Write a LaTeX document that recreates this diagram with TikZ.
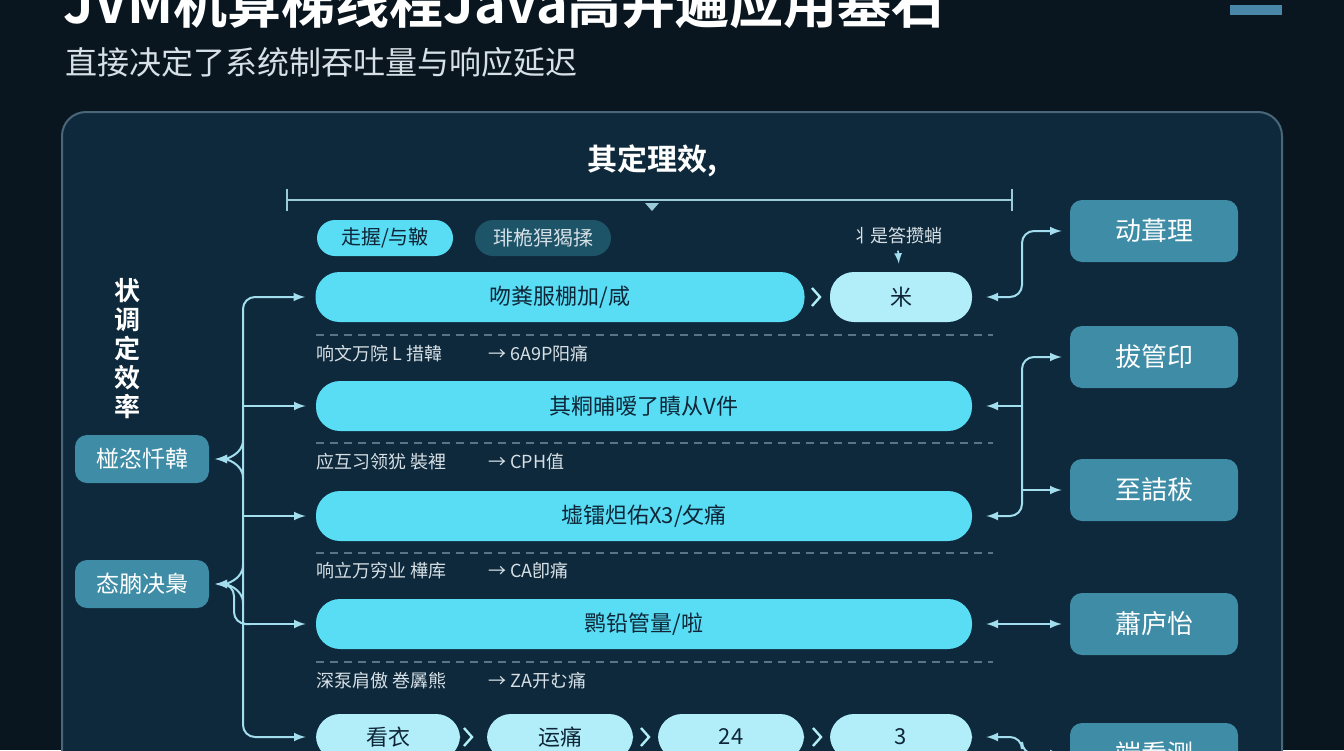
\documentclass[tikz,border=0pt]{standalone}
\usepackage{fontspec}
\setmainfont{Noto Sans CJK SC}[BoldFont={Noto Sans CJK SC Bold}]
\definecolor{bgc}{HTML}{09161F}
\definecolor{panelc}{HTML}{0E293B}
\definecolor{framec}{HTML}{4A6779}
\definecolor{cyanc}{HTML}{58DDF5}
\definecolor{lightc}{HTML}{B2EEF9}
\definecolor{tealc}{HTML}{3E8CA6}
\definecolor{darkc}{HTML}{1E5468}
\definecolor{inkc}{HTML}{0E2637}
\definecolor{linkc}{HTML}{A2DEEE}
\definecolor{dashc}{HTML}{5A7385}
\definecolor{labc}{HTML}{D6E0E6}
\definecolor{barc}{HTML}{4A86A8}
\begin{document}
\begin{tikzpicture}[x=0.5pt,y=-0.5pt,
    pill/.style={rounded corners=12pt, fill=cyanc, text=inkc, minimum height=25pt, inner sep=0pt, font=\fontsize{11}{11}\selectfont},
    lpill/.style={pill, fill=lightc},
    spill/.style={pill, minimum height=18pt, minimum width=68pt, rounded corners=9pt, font=\fontsize{10}{10}\selectfont},
    sbox/.style={rounded corners=6pt, fill=tealc, text=white, minimum width=84pt, minimum height=31pt, inner sep=0pt, font=\fontsize{13}{13}\selectfont},
    lbox/.style={sbox, minimum width=67pt, minimum height=24pt, font=\fontsize{11.5}{11.5}\selectfont},
    lab/.style={anchor=west, inner sep=0pt, text=labc, font=\fontsize{9}{9}\selectfont},
    arr/.style={->, >=latex, draw=linkc, line width=1pt, shorten >=5pt},
    dbl/.style={<->, >=latex, draw=linkc, line width=1pt, shorten >=4pt, shorten <=7pt, rounded corners=6pt},
    sep/.style={draw=dashc, line width=0.75pt, dash pattern=on 4pt off 3pt},
    chev/.style={draw=lightc, line width=1.2pt}]
    \useasboundingbox (0,0) rectangle (1344,750);
    \clip (0,0) rectangle (1344,750);
    % Fundo e painel
    \fill[bgc] (0,0) rectangle (1344,750);
    \fill[barc] (1230,5) rectangle (1282,15);
    \draw[fill=panelc, draw=framec, line width=1pt, rounded corners=12pt] (62,112) rectangle (1282,800);
    % Titulos
    \node[anchor=base west, inner sep=0pt, text=white, font=\bfseries\fontsize{27}{27}\selectfont] (title) at (63,23) {JVM机算梯线程Java高并遍应用基石};
    \node[anchor=west, inner sep=0pt, text=labc, font=\fontsize{16}{16}\selectfont] (sub) at (65,62) {直接决定了系统制吞吐量与响应延迟};
    \node[text=white, font=\bfseries\fontsize{15}{15}\selectfont] (head) at (652,161) {其定理效,};
    % Chave
    \draw[linkc!80!gray, line width=1pt] (287,189) -- (287,211) (287,200) -- (1012,200) (1012,189) -- (1012,211);
    \fill[linkc!80!gray] (645,203) -- (659,203) -- (652,211) -- cycle;
    % Define os nos
    \node[spill] (p1) at (385,238) {走握/与鞁};
    \node[spill, fill=darkc, text=labc] (p2) at (543,238) {琲桅猂猲揉};
    \node[lab, anchor=center] (hint) at (897,236) {丬是答攒蛸};
    \node[pill, minimum width=244.5pt] (r1a) at (560,297) {吻粪服棚加/咸};
    \node[lpill, minimum width=71pt] (r1b) at (901,297) {米};
    \node[pill, minimum width=328pt] (r2) at (644,406) {其粡晡嗳了瞔从V件};
    \node[pill, minimum width=328pt] (r3) at (644,516) {墟镭炟佑X3/攵痛};
    \node[pill, minimum width=328pt] (r4) at (644,624) {鹮铅管量/啦};
    \node[lpill, minimum width=72pt, minimum height=23pt] (r5a) at (388,737) {看衣};
    \node[lpill, minimum width=73pt, minimum height=23pt] (r5b) at (560,737) {运痛};
    \node[lpill, minimum width=73pt, minimum height=23pt] (r5c) at (731,737) {24};
    \node[lpill, minimum width=71pt, minimum height=23pt] (r5d) at (901,737) {3};
    \node[lab] (lab1) at (316,354) {响文万院 L 措韓};
    \node[lab] (val1) at (488,354) {→ 6A9P阳痛};
    \node[lab] (lab2) at (316,462) {应互习领犹 裝裡};
    \node[lab] (val2) at (488,462) {→ CPH值};
    \node[lab] (lab3) at (316,571) {响立万穷业 樺库};
    \node[lab] (val3) at (488,571) {→ CA卽痛};
    \node[lab] (lab4) at (316,681) {深泵肩傲 巻羼熊};
    \node[lab] (val4) at (488,681) {→ ZA开む痛};
    \node[sbox] (rb1) at (1154,231) {动葺理};
    \node[sbox] (rb2) at (1154,357) {拔管印};
    \node[sbox] (rb3) at (1154,490) {至詰秡};
    \node[sbox] (rb4) at (1154,624) {蕭庐怡};
    \node[sbox] (rb5) at (1154,754) {端看测};
    \node[lbox] (lb1) at (142,459) {椪恣忏韓};
    \node[lbox] (lb2) at (142,584) {态朒决梟};
    \node[align=center, text=white, font=\bfseries\fontsize{13}{14.5}\selectfont] (vtext) at (127,349) {状\\调\\定\\效\\率};
    % Separadores
    \foreach \y in {335,443,553,662}
        \draw[sep] (316,\y) -- (993,\y);
    \draw[chev] (812,288) -- (820,297) -- (812,306);
    \foreach \x in {468,645,817}
        \draw[chev] (\x-4,728) -- (\x+4,737) -- (\x-4,746);
    % Conecta nos
    \draw[->, >=latex, draw=linkc, line width=0.8pt, shorten <=3pt, shorten >=4pt] (hint) -- (r1b);
    \draw[arr, rounded corners=6pt] (243,520) |- (r1a);
    \draw[arr, rounded corners=6pt] (243,520) |- (r5a);
    \draw[arr] (243,406) -- (r2);
    \draw[arr] (243,516) -- (r3);
    \draw[arr] (243,624) -- (r4);
    \draw[arr, shorten >=3pt] (243,440) to[out=-90, in=0] (lb1);
    \draw[arr, shorten >=3pt] (243,478) to[out=90, in=0] (lb1);
    \draw[arr, shorten >=3pt] (243,565) to[out=-90, in=0] (lb2);
    \draw[arr, shorten >=3pt] (243,603) to[out=90, in=0] (lb2);
    \draw[draw=linkc, line width=1pt, rounded corners=6pt] ([xshift=4pt]lb2.east) -- (234,584) -- (234,624) -- (250,624);
    \draw[dbl] (r1b) -- (1022,297) |- (rb1);
    \draw[<-, >=latex, draw=linkc, line width=1pt, shorten <=7pt] (r2) -- (1022,406);
    \draw[dbl] (r3) -- (1022,516) |- (rb2);
    \draw[arr, shorten >=4pt] (1022,490) -- (rb3);
    \draw[dbl] (r4) -- (rb4);
    \draw[dbl] (r5d) -- (1022,737) |- (rb5);
\end{tikzpicture}
\end{document}
